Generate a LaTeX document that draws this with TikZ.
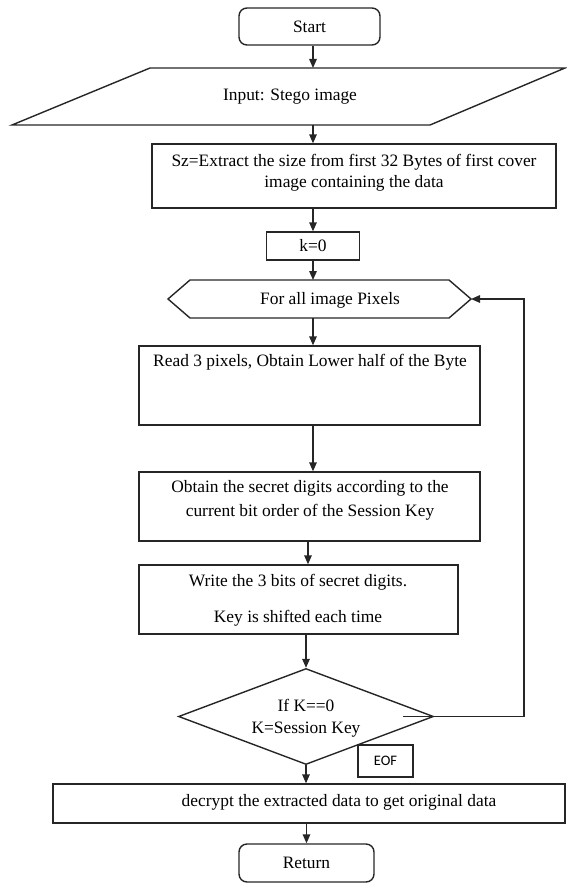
\documentclass[tikz,border=0pt]{standalone}
\usepackage{fontspec}
\setmainfont{Liberation Serif}
\newfontfamily\eoffont{Carlito}
\usetikzlibrary{arrows.meta,shapes.geometric,calc}
\begin{document}
\begin{tikzpicture}[x=1pt,y=-1pt,
  every node/.style={font=\fontsize{17.4}{21}\selectfont, inner sep=0pt},
  ln/.style={line width=1.4pt, draw=black!85},
  box/.style={ln, rectangle},
  rbox/.style={ln, rectangle, rounded corners=8pt},
  txt/.style={align=center},
  arr/.style={ln, -{Triangle[length=9pt,width=7.5pt]}}]
\useasboundingbox (0,0) rectangle (566,883);

% Start
\node[rbox, minimum width=141pt, minimum height=37pt] (start) at (309.5,26.5) {Start};

% Input parallelogram
\draw[ln] (150,68) -- (565,68) -- (430,125) -- (12,125) -- cycle;
\node (inp) at (290,97) {Input: Stego image};
\coordinate (inpT) at (313,68);
\coordinate (inpB) at (313,125);

% Sz box
\node[box, minimum width=404pt, minimum height=64pt] (sz) at (354,176) {};
\node[txt] (sztxt) at (354,172.5) {Sz=Extract the size from first 32 Bytes of first cover\\image containing the data};

% k=0
\node[box, minimum width=93pt, minimum height=28pt] (k0) at (313,246) {k=0};

% Hexagon
\draw[ln] (168,299) -- (190,280) -- (449,280) -- (471,299) -- (449,318) -- (190,318) -- cycle;
\node (hex) at (330,300) {For all image Pixels};
\coordinate (hexT) at (313,280);
\coordinate (hexB) at (313,318);
\coordinate (hexR) at (471,299);

% Read box
\node[box, minimum width=341pt, minimum height=79pt] (read) at (309.5,385.5) {};
\node (readtxt) at (310,362) {Read 3 pixels, Obtain Lower half of the Byte};

% Obtain box
\node[box, minimum width=341pt, minimum height=69pt] (obt) at (309.5,506.5) {};
\node[txt, font=\fontsize{17.4}{24}\selectfont] (obttxt) at (310,500) {Obtain the secret digits according to the\\current bit order of the Session Key};

% Write box
\node[box, minimum width=319pt, minimum height=69pt] (wri) at (298.5,599.5) {};
\node (writxt1) at (298,582) {Write the 3 bits of secret digits.};
\node (writxt2) at (298,618) {Key is shifted each time};

% Decision
\node[ln, diamond, minimum width=255pt, minimum height=96pt] (dec) at (306,716.5) {};
\node[txt, font=\fontsize{17.4}{22}\selectfont] (dectxt) at (306,718) {If K==0\\K=Session Key};
\coordinate (stub) at (403,716.5);
\coordinate (loopA) at (524,716.5);
\coordinate (loopB) at (524,299);

% EOF
\node[box, minimum width=55pt, minimum height=32pt, font=\eoffont\fontsize{14.5}{17}\selectfont] (eof) at (385.5,761) {EOF};

% decrypt
\node[box, minimum width=512pt, minimum height=39pt] (decr) at (309,803.5) {};
\node (decrtxt) at (339,802) {decrypt the extracted data to get original data};

% Return
\node[rbox, minimum width=135pt, minimum height=38pt] (ret) at (306.5,863) {Return};

% connectors
\draw[arr] (start.south -| inpT) -- (inpT);
\draw[arr] (inpB) -- (sz.north -| inpB);
\draw[arr] (sz.south -| k0.north) -- (k0.north);
\draw[arr] (k0.south) -- (hexT);
\draw[arr] (hexB) -- (read.north -| hexB);
\draw[arr] (read.south -| hexB) -- (obt.north -| hexB);
\draw[arr] ($(obt.south)+(-1.5,0)$) -- ($(wri.north)+(9.5,0)$);
\draw[arr] (wri.south -| dec.north) -- (dec.north);
\draw[ln] (stub) -- (dec.east);
\draw[arr] (dec.east) -- (loopA) -- (loopB) -- (hexR);
\draw[arr] (dec.south) -- (decr.north -| dec.south);
\draw[arr] (decr.south -| ret.north) -- (ret.north);
\end{tikzpicture}
\end{document}
